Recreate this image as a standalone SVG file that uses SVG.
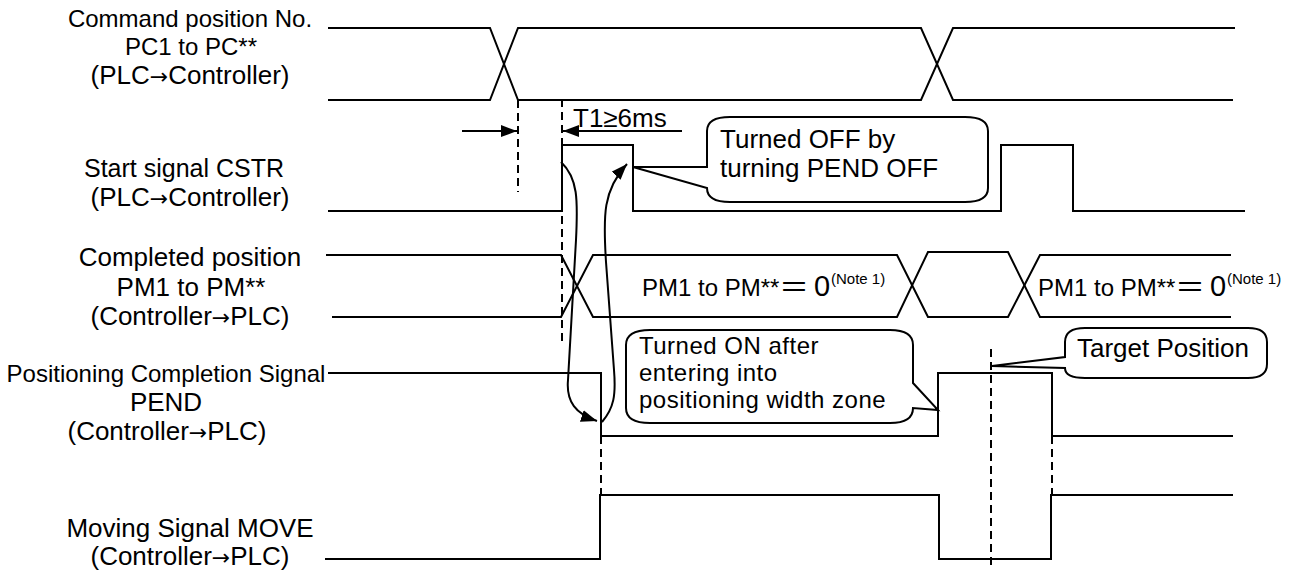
<svg xmlns="http://www.w3.org/2000/svg" width="1302" height="571" viewBox="0 0 1302 571">
<style>
text{font-family:"Liberation Sans","Noto Sans CJK JP",Arial,sans-serif;fill:#000}
.lbl{font-size:26px;text-anchor:middle}
.cal{font-size:26px}
.cal2{font-size:24px;letter-spacing:0.5px}
.arr{font-family:"DejaVu Sans",sans-serif;font-size:22px}
.sig{fill:none;stroke:#000;stroke-width:2}
.dash{fill:none;stroke:#000;stroke-width:2;stroke-dasharray:8 5}
.callout{fill:#fff;stroke:#000;stroke-width:2;stroke-linejoin:miter}
.conn{fill:none;stroke:#000;stroke-width:2}
.eq{font-family:"Noto Sans CJK JP",sans-serif;font-size:30px}
.zero{font-size:29px}
.note{font-size:15px}
</style>
<defs>
<marker id="ah" viewBox="0 0 16 12" refX="16" refY="6" markerWidth="16" markerHeight="12" markerUnits="userSpaceOnUse" orient="auto">
<path d="M0,0 L16,6 L0,12 Z" fill="#000"/>
</marker>
</defs>
<rect width="1302" height="571" fill="#fff"/>

<g id="labels">
<text class="lbl" x="190" y="27" style="font-size:24px">Command position No.</text>
<text class="lbl" x="191" y="55" style="font-size:24px">PC1 to PC**</text>
<text class="lbl" x="190" y="84">(PLC<tspan class="arr">→</tspan>Controller)</text>
<text class="lbl" x="184" y="177" style="font-size:25px">Start signal CSTR</text>
<text class="lbl" x="190" y="206">(PLC<tspan class="arr">→</tspan>Controller)</text>
<text class="lbl" x="190" y="266">Completed position</text>
<text class="lbl" x="191" y="296">PM1 to PM**</text>
<text class="lbl" x="190" y="325">(Controller<tspan class="arr">→</tspan>PLC)</text>
<text class="lbl" x="166" y="382" style="font-size:24px">Positioning Completion Signal</text>
<text class="lbl" x="166" y="411">PEND</text>
<text class="lbl" x="167" y="440">(Controller<tspan class="arr">→</tspan>PLC)</text>
<text class="lbl" x="190" y="537">Moving Signal MOVE</text>
<text class="lbl" x="190" y="565">(Controller<tspan class="arr">→</tspan>PLC)</text>
</g>

<g id="guides">
<line class="dash" x1="518" y1="100" x2="518" y2="192"/>
<line class="dash" x1="562" y1="99" x2="562" y2="343"/>
<line class="dash" x1="601" y1="436" x2="601" y2="495"/>
<line class="dash" x1="1052" y1="436" x2="1052" y2="495"/>
<line class="dash" x1="991" y1="349" x2="991" y2="566"/>
</g>

<g id="sig-command">
<path class="sig" d="M328,28 H490 L518,100 H921 L953,28 H1235"/>
<path class="sig" d="M328,100 H490 L518,28 H921 L953,100 H1233"/>
</g>

<g id="sig-cstr">
<path class="sig" d="M328,211 H562 V145 H633 V211 H1001 V145 H1073 V211 H1245"/>
</g>

<g id="sig-pm">
<path class="sig" d="M326,255 H561 L593,317 H897 L928,252 H1008 L1040,317 H1231"/>
<path class="sig" d="M332,317 H561 L593,255 H897 L928,317 H1008 L1040,255 H1231"/>
<text class="cal" x="642" y="296" style="font-size:24px">PM1 to PM**</text>
<text class="eq" x="779" y="298">＝</text>
<text class="zero" x="814" y="296">0</text>
<text class="note" x="831" y="284">(Note 1)</text>
<text class="cal" x="1038" y="296" style="font-size:24px">PM1 to PM**</text>
<text class="eq" x="1175" y="298">＝</text>
<text class="zero" x="1210" y="296">0</text>
<text class="note" x="1227" y="284">(Note 1)</text>
</g>

<g id="sig-pend">
<path class="sig" d="M328,373 H601 V436 H938 V373 H1052 V436 H1233"/>
</g>

<g id="sig-move">
<path class="sig" d="M325,559 H600 V495 H939 V559 H1051 V495 H1233"/>
</g>

<g id="connectors">
<line class="conn" x1="462" y1="131" x2="517" y2="131" marker-end="url(#ah)"/>
<line class="conn" x1="682" y1="131" x2="563" y2="131" marker-end="url(#ah)"/>
<path class="conn" d="M561,162 C578,178 578,200 576,240 L568,380 C566,402 576,414 597,421" marker-end="url(#ah)"/>
<path class="conn" d="M602,422 C614,408 616,395 614,370 L606,262 C603,215 603,190 627,164" marker-end="url(#ah)"/>
</g>

<g id="t1-label">
<text class="cal" x="573" y="127">T1≥6ms</text>
</g>

<g id="callout-off">
<path class="callout" d="M730,117 H965 Q988,117 988,131 V188 Q988,202 965,202 H730 Q707,202 707,188 L633,167 H707 V131 Q707,117 730,117 Z"/>
<text class="cal" x="720" y="148">Turned OFF by</text>
<text class="cal" x="720" y="177">turning PEND OFF</text>
</g>

<g id="callout-on">
<path class="callout" d="M650,330 H890 Q913,330 913,345 V383 L938,410 L913,408 Q913,423 890,423 H650 Q626,423 626,408 V345 Q626,330 650,330 Z"/>
<text class="cal2" x="639" y="354">Turned ON after</text>
<text class="cal2" x="639" y="381">entering into</text>
<text class="cal2" x="639" y="408">positioning width zone</text>
</g>

<g id="callout-target">
<path class="callout" d="M1085,328 H1248 Q1267,328 1267,342 V364 Q1267,378 1248,378 H1085 Q1065,378 1065,368 L992,366 L1065,357 V342 Q1065,328 1085,328 Z"/>
<text class="cal" x="1077" y="357">Target Position</text>
</g>
</svg>
